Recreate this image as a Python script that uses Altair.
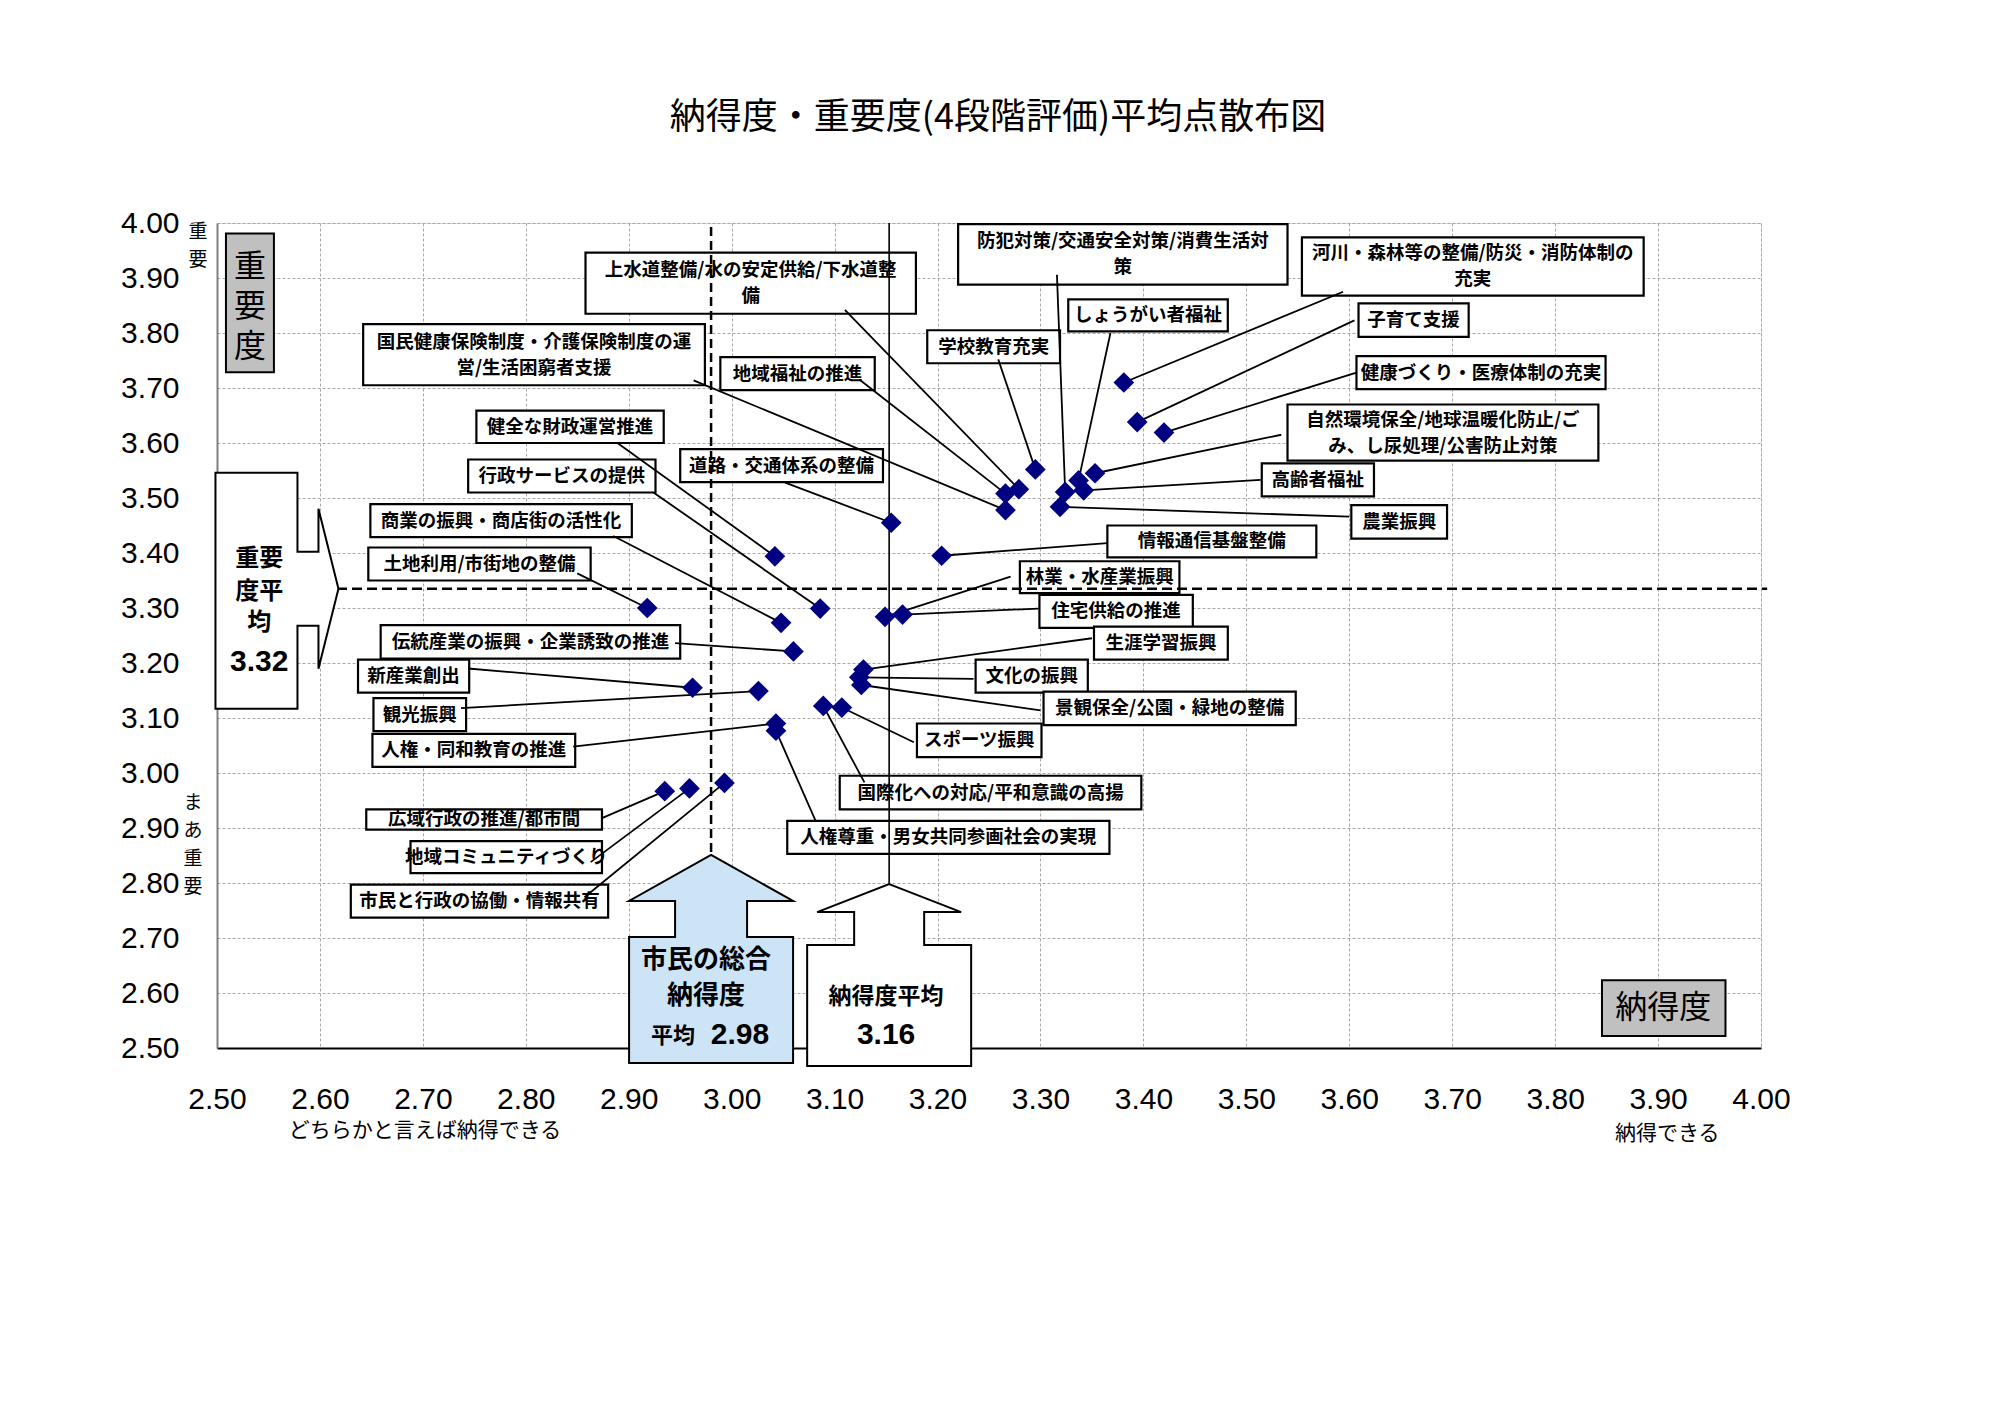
import altair as alt
import pandas as pd

# ---------------- data ----------------
title_text = "納得度・重要度(4段階評価)平均点散布図"

names = [
    "上水道整備/水の安定供給/下水道整備",
    "国民健康保険制度・介護保険制度の運営/生活困窮者支援",
    "地域福祉の推進",
    "健全な財政運営推進",
    "道路・交通体系の整備",
    "行政サービスの提供",
    "商業の振興・商店街の活性化",
    "土地利用/市街地の整備",
    "伝統産業の振興・企業誘致の推進",
    "新産業創出",
    "観光振興",
    "人権・同和教育の推進",
    "広域行政の推進/都市間",
    "地域コミュニティづくり",
    "市民と行政の協働・情報共有",
    "防犯対策/交通安全対策/消費生活対策",
    "河川・森林等の整備/防災・消防体制の充実",
    "しょうがい者福祉",
    "学校教育充実",
    "子育て支援",
    "健康づくり・医療体制の充実",
    "自然環境保全/地球温暖化防止/ごみ、し尿処理/公害防止対策",
    "高齢者福祉",
    "農業振興",
    "情報通信基盤整備",
    "林業・水産業振興",
    "住宅供給の推進",
    "生涯学習振興",
    "文化の振興",
    "景観保全/公園・緑地の整備",
    "スポーツ振興",
    "国際化への対応/平和意識の高揚",
    "人権尊重・男女共同参画社会の実現",
]
nattoku = [3.279, 3.266, 3.266, 3.042, 3.155, 3.086, 3.048, 2.918, 3.060, 2.962,
           3.026, 3.043, 2.935, 2.959, 2.993, 3.324, 3.381, 3.337, 3.295, 3.394,
           3.420, 3.353, 3.342, 3.319, 3.204, 3.149, 3.166, 3.128, 3.124, 3.126,
           3.107, 3.089, 3.043]
juyo = [3.516, 3.478, 3.508, 3.394, 3.455, 3.299, 3.273, 3.300, 3.221, 3.155,
        3.149, 3.090, 2.967, 2.972, 2.982, 3.511, 3.710, 3.532, 3.552, 3.638,
        3.619, 3.545, 3.514, 3.484, 3.395, 3.284, 3.288, 3.188, 3.174, 3.160,
        3.119, 3.122, 3.077]

overall_label = ["市民の総合", "納得度", "平均", "2.98"]
nattoku_avg_label = ["納得度平均", "3.16"]
juyo_avg_label = ["重要", "度平", "均", "3.32"]
ref_overall = 2.98      # dashed vertical line
ref_nattoku = 3.153     # solid vertical line
ref_juyo = 3.335        # dashed horizontal line

axis_ticks = [2.50, 2.60, 2.70, 2.80, 2.90, 3.00, 3.10, 3.20, 3.30, 3.40,
              3.50, 3.60, 3.70, 3.80, 3.90, 4.00]

# ---------------- label layout (data units) ----------------
label_text = [
    "上水道整備/水の安定供給/下水道整\n備",
    "国民健康保険制度・介護保険制度の運\n営/生活困窮者支援",
    "地域福祉の推進",
    "健全な財政運営推進",
    "道路・交通体系の整備",
    "行政サービスの提供",
    "商業の振興・商店街の活性化",
    "土地利用/市街地の整備",
    "伝統産業の振興・企業誘致の推進",
    "新産業創出",
    "観光振興",
    "人権・同和教育の推進",
    "広域行政の推進/都市間",
    "地域コミュニティづくり",
    "市民と行政の協働・情報共有",
    "防犯対策/交通安全対策/消費生活対\n策",
    "河川・森林等の整備/防災・消防体制の\n充実",
    "しょうがい者福祉",
    "学校教育充実",
    "子育て支援",
    "健康づくり・医療体制の充実",
    "自然環境保全/地球温暖化防止/ご\nみ、し尿処理/公害防止対策",
    "高齢者福祉",
    "農業振興",
    "情報通信基盤整備",
    "林業・水産業振興",
    "住宅供給の推進",
    "生涯学習振興",
    "文化の振興",
    "景観保全/公園・緑地の整備",
    "スポーツ振興",
    "国際化への対応/平和意識の高揚",
    "人権尊重・男女共同参画社会の実現",
]
box_left = [2.858, 2.642, 2.989, 2.752, 2.950, 2.744, 2.649, 2.647, 2.659, 2.637,
            2.652, 2.651, 2.645, 2.688, 2.630, 3.220, 3.554, 3.327, 3.190, 3.609,
            3.607, 3.540, 3.515, 3.602, 3.365, 3.280, 3.299, 3.352, 3.237, 3.303,
            3.180, 3.105, 3.054]
box_right = [3.179, 2.974, 3.139, 2.934, 3.147, 2.926, 2.903, 2.863, 2.950, 2.745,
             2.742, 2.848, 2.874, 2.874, 2.880, 3.540, 3.886, 3.482, 3.319, 3.716,
             3.849, 3.842, 3.624, 3.695, 3.568, 3.435, 3.448, 3.482, 3.346, 3.548,
             3.301, 3.398, 3.367]
box_top = [3.946, 3.816, 3.756, 3.659, 3.589, 3.570, 3.489, 3.410, 3.269, 3.206,
           3.136, 3.071, 2.934, 2.876, 2.797, 3.998, 3.974, 3.861, 3.805, 3.854,
           3.758, 3.670, 3.563, 3.487, 3.450, 3.385, 3.324, 3.266, 3.206, 3.148,
           3.090, 2.995, 2.913]
box_bottom = [3.835, 3.705, 3.696, 3.600, 3.529, 3.510, 3.429, 3.350, 3.208, 3.146,
              3.076, 3.011, 2.897, 2.818, 2.737, 3.888, 3.868, 3.803, 3.745, 3.793,
              3.698, 3.568, 3.503, 3.426, 3.392, 3.327, 3.264, 3.206, 3.146, 3.087,
              3.029, 2.934, 2.853]
lead_x = [3.110, 2.963, 3.125, 2.889, 3.052, 2.924, 2.885, 2.850, 2.945, 2.744,
          2.737, 2.846, 2.874, 2.863, 2.857, 3.316, 3.594, 3.368, 3.259, 3.605,
          3.607, 3.534, 3.514, 3.600, 3.365, 3.271, 3.298, 3.350, 3.235, 3.300,
          3.177, 3.129, 3.082]
lead_y = [3.842, 3.714, 3.714, 3.600, 3.528, 3.510, 3.431, 3.363, 3.236, 3.190,
          3.118, 3.048, 2.918, 2.838, 2.774, 3.906, 3.875, 3.800, 3.752, 3.823,
          3.728, 3.615, 3.533, 3.466, 3.418, 3.357, 3.299, 3.245, 3.171, 3.114,
          3.056, 2.983, 2.911]

JP = "Noto Sans CJK JP"
NUM = "Liberation Sans"
PLOT_H = 825
DATA_PER_PX = 1.5 / PLOT_H
LABEL_LH = 26

xs = alt.Scale(domain=[2.5, 4.0], nice=False, zero=False)
ys = alt.Scale(domain=[2.5, 4.0], nice=False, zero=False)

x_axis = alt.Axis(values=axis_ticks, format=".2f", title=None, grid=True,
                  gridDash=[3, 2], gridColor="#a8a8a8", gridWidth=1,
                  labelFont=NUM, labelFontSize=30, labelColor="black",
                  labelPadding=36, ticks=False, labelFlush=False,
                  labelOverlap=False, domainColor="black", domainWidth=2)
y_axis = alt.Axis(values=axis_ticks, format=".2f", title=None, grid=True,
                  gridDash=[3, 2], gridColor="#a8a8a8", gridWidth=1,
                  labelFont=NUM, labelFontSize=30, labelColor="black",
                  labelPadding=38, ticks=False, labelFlush=False,
                  labelOverlap=False, domainColor="#808080", domainWidth=2)


def X(f):
    return alt.X(f, type="quantitative", scale=xs, axis=x_axis)


def Y(f):
    return alt.Y(f, type="quantitative", scale=ys, axis=y_axis)


pts = pd.DataFrame({"name": names, "x": nattoku, "y": juyo})
lab = pd.DataFrame({
    "label": label_text,
    "bx1": box_left, "bx2": box_right, "by1": box_top, "by2": box_bottom,
    "lx": lead_x, "ly": lead_y, "px": nattoku, "py": juyo,
})
lab["cx"] = (lab["bx1"] + lab["bx2"]) / 2
n_lines = lab["label"].str.count("\n")
# first line anchor so the text block is centred in its box
lab["cy"] = (lab["by1"] + lab["by2"]) / 2 + n_lines * LABEL_LH / 2 * DATA_PER_PX

# label boxes
boxes = alt.Chart(lab).mark_rect(fill="white", stroke="black", strokeWidth=2.2).encode(
    x=X("bx1"), x2="bx2", y=Y("by1"), y2="by2")
box_text = alt.Chart(lab).mark_text(
    font=JP, fontSize=18.5, fontWeight="bold", color="black", lineBreak="\n",
    lineHeight=LABEL_LH, align="center", baseline="middle").encode(
    x=X("cx"), y=Y("cy"), text="label:N")

# reference lines
vref = pd.DataFrame({"x": [ref_overall], "y": [2.5], "y2": [4.0]})
vref2 = pd.DataFrame({"x": [ref_nattoku], "y": [2.5], "y2": [4.0]})
href = pd.DataFrame({"x": [2.5], "x2": [4.006], "y": [ref_juyo]})
ref_dash_v = alt.Chart(vref).mark_rule(color="black", strokeWidth=2.5, strokeDash=[9, 5]).encode(
    x=X("x"), y=Y("y"), y2="y2")
ref_solid_v = alt.Chart(vref2).mark_rule(color="black", strokeWidth=1.6).encode(
    x=X("x"), y=Y("y"), y2="y2")
ref_dash_h = alt.Chart(href).mark_rule(color="black", strokeWidth=2.5, strokeDash=[10, 5]).encode(
    x=X("x"), x2="x2", y=Y("y"))

# leader lines
leaders = alt.Chart(lab).mark_rule(color="black", strokeWidth=1.8).encode(
    x=X("lx"), y=Y("ly"), x2="px", y2="py")

# points
points = alt.Chart(pts).mark_point(shape="diamond", filled=True, color="#000080",
                                   size=430, opacity=1).encode(
    x=X("x"), y=Y("y"), tooltip=["name:N", "x:Q", "y:Q"])

# callout shapes (custom symbol paths, pixel units with size=4)
left_arrow_path = "M-123,-116L-41,-116L-41,-37L-20,-37L-20,-80L0,0L-20,80L-20,37L-41,37L-41,120L-123,120Z"
blue_arrow_path = "M0,0L82,46L36,46L36,82L82,82L82,208L-82,208L-82,82L-36,82L-36,46L-82,46Z"
white_arrow_path = "M0,0L72,28L35,28L35,61L82,61L82,182L-82,182L-82,61L-35,61L-35,28L-72,28Z"

left_arrow = alt.Chart(pd.DataFrame({"x": [2.618], "y": [ref_juyo]})).mark_point(
    shape=left_arrow_path, size=4, filled=True, fill="white", stroke="black",
    strokeWidth=2, opacity=1, fillOpacity=1).encode(x=X("x"), y=Y("y"))
blue_arrow = alt.Chart(pd.DataFrame({"x": [ref_overall], "y": [2.851]})).mark_point(
    shape=blue_arrow_path, size=4, filled=True, fill="#cde4f6", stroke="black",
    strokeWidth=2, opacity=1, fillOpacity=1).encode(x=X("x"), y=Y("y"))
white_arrow = alt.Chart(pd.DataFrame({"x": [ref_nattoku], "y": [2.798]})).mark_point(
    shape=white_arrow_path, size=4, filled=True, fill="white", stroke="black",
    strokeWidth=2, opacity=1, fillOpacity=1).encode(x=X("x"), y=Y("y"))

# gray corner boxes
gray_df = pd.DataFrame({"x1": [2.5087, 3.8455], "x2": [2.5553, 3.9655],
                        "y1": [3.981, 2.623], "y2": [3.7285, 2.522]})
gray_boxes = alt.Chart(gray_df).mark_rect(fill="#c0c0c0", stroke="black", strokeWidth=2).encode(
    x=X("x1"), x2="x2", y=Y("y1"), y2="y2")
gray_text_df = pd.DataFrame({"t": ["重\n要\n度", "納得度"], "x": [2.532, 3.905],
                             "y": [3.920, 2.572]})
gray_text = alt.Chart(gray_text_df).mark_text(
    font=JP, fontSize=32, color="black", lineBreak="\n", lineHeight=40,
    align="center", baseline="middle").encode(x=X("x"), y=Y("y"), text="t:N")

# callout texts
jp_bold_df = pd.DataFrame({
    "t": [juyo_avg_label[0], juyo_avg_label[1], juyo_avg_label[2],
          overall_label[0], overall_label[1], overall_label[2], nattoku_avg_label[0]],
    "x": [2.541, 2.541, 2.541, 2.975, 2.975, 2.943, 3.150],
    "y": [3.389, 3.329, 3.273, 2.660, 2.595, 2.521, 2.593],
    "s": [24, 24, 24, 26, 26, 22, 23],
})
jp_bold = alt.Chart(jp_bold_df).mark_text(
    font=JP, fontWeight="bold", color="black", align="center", baseline="middle").encode(
    x=X("x"), y=Y("y"), text="t:N", size=alt.Size("s:Q", scale=None))
num_bold_df = pd.DataFrame({
    "t": [juyo_avg_label[3], overall_label[3], nattoku_avg_label[1]],
    "x": [2.541, 3.008, 3.150],
    "y": [3.201, 2.523, 2.523],
})
num_bold = alt.Chart(num_bold_df).mark_text(
    font=NUM, fontWeight="bold", fontSize=30, color="black", align="center",
    baseline="middle").encode(x=X("x"), y=Y("y"), text="t:N")

# axis side captions (y = first line)
side_df = pd.DataFrame({
    "t": ["重\n要", "ま\nあ\n重\n要", "どちらかと言えば納得できる", "納得できる"],
    "x": [2.4815, 2.4767, 2.702, 3.909],
    "y": [3.983, 2.945, 2.349, 2.344],
    "s": [19, 19, 21, 21],
})
side_text = alt.Chart(side_df).mark_text(
    font=JP, color="black", lineBreak="\n", lineHeight=28, align="center",
    baseline="middle").encode(x=X("x"), y=Y("y"), text="t:N",
                              size=alt.Size("s:Q", scale=None))

chart = alt.layer(
    boxes, box_text, ref_dash_v, ref_solid_v, ref_dash_h,
    leaders, points, left_arrow, blue_arrow, white_arrow,
    gray_boxes, gray_text, jp_bold, num_bold, side_text,
).properties(
    width=1544, height=PLOT_H,
    padding={"left": 209, "top": 215, "right": 231, "bottom": 358},
    autosize=alt.AutoSizeParams(type="none"),
    title=alt.TitleParams(text=title_text, font=JP, fontSize=36, fontWeight="normal",
                          color="black", anchor="middle", frame="group",
                          baseline="bottom", offset=35, dx=9),
).configure_view(stroke="#808080", strokeWidth=2).configure(background="white")

chart.save("out.html", embed_options={"renderer": "svg", "actions": False})
